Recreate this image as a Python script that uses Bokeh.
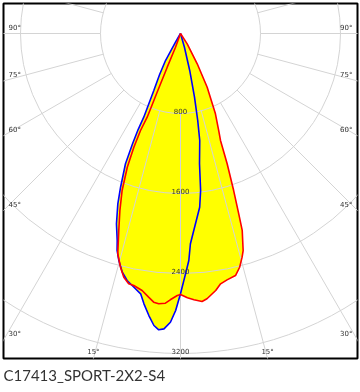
import numpy as np
from bokeh.plotting import figure
from bokeh.models import Range1d, Title
from bokeh.embed import file_html
from bokeh.resources import INLINE
from bokeh.core.properties import value

# ---- data (angle from nadir in degrees, negative = left side; intensity in cd) ----
# C0-C180 plane (red)
red_angles = [33, 33, 28.9, 26.4, 23.5, 21.5, 20.5, 19.7, 18.7, 17.9, 17.4, 16.1, 15.4,
              14.2, 12.8, 10.7, 9.1, 7.8, 5.7, 4.6, 2.9, 1.5, 0, -0.7, -2.2, -3.2, -4.6,
              -5.7, -6.9, -8.5, -10.5, -11.7, -13.1, -14.4, -15.9, -17.4, -18.9, -20.4,
              -21.7, -22.3, -22.4, -21.7, -21.7, -21.5, -20, -20]
red_cd = [0, 123, 346, 600, 876, 1043, 1142, 1384, 1658, 1895, 2064, 2259, 2320,
          2411, 2482, 2507, 2535, 2594, 2666, 2689, 2666, 2644, 2610, 2620, 2665, 2701, 2712,
          2700, 2656, 2598, 2563, 2556, 2502, 2413, 2290, 2064, 1871, 1675,
          1439, 1229, 1049, 901, 632, 362, 146, 0]

# C90-C270 plane (blue)
blue_angles = [16, 16, 14, 12.4, 11.2, 10.2, 8.3, 7.3, 6.3, 4.5, 2.7, 2.1, 1.2, 0,
               -1.0, -2.0, -3.2, -4.2, -5.2, -6.4, -7.7, -8.7, -10.4, -12.2, -13.7,
               -15.2, -16.3, -17.0, -18.6, -20.2, -21.3, -22.9, -23.5, -23.8, -23.7,
               -25.1, -27.0, -29.0, -30.0, -30.0]
blue_cd = [0, 143, 381, 652, 887, 1087, 1317, 1583, 1748, 1909, 2105, 2272, 2404, 2603,
           2770, 2889, 2958, 2971, 2932, 2838, 2728, 2634, 2580, 2527, 2457,
           2352, 2260, 2165, 2008, 1815, 1650, 1414, 1200, 1050, 914,
           629, 460, 309, 100, 0]

circle_values = [800, 1600, 2400, 3200]
circle_labels = ["800", "1600", "2400", "3200"]
radial_angles = list(range(-180, 181, 15))
side_angles = [90, 75, 60, 45, 30]
bottom_angles = [15]
title_text = "C17413_SPORT-2X2-S4"

X_MIN, X_MAX, Y_MIN, Y_MAX = -1770, 1770, -3250, 300


def polar(angles, cds):
    a = np.radians(np.asarray(angles, dtype=float))
    r = np.asarray(cds, dtype=float)
    return r * np.sin(a), -r * np.cos(a)


p = figure(frame_width=354, frame_height=355,
           x_range=Range1d(X_MIN, X_MAX), y_range=Range1d(Y_MIN, Y_MAX),
           output_backend="svg", toolbar_location=None,
           min_border_left=2, min_border_right=2, min_border_top=2, min_border_bottom=0,
           styles={"position": "fixed", "left": "1px", "top": "1px"})
p.axis.visible = False
p.grid.visible = False
p.outline_line_color = "black"
p.outline_line_width = 2
p.background_fill_color = "white"
p.border_fill_color = "white"

rx, ry = polar(red_angles, red_cd)
bx, by = polar(blue_angles, blue_cd)

# yellow fill
p.patch(list(bx), list(by), fill_color="#ffff00", line_color=None)
p.patch(list(rx), list(ry), fill_color="#ffff00", line_color=None)

# grid: circles
p.circle(x=[0] * len(circle_values), y=[0] * len(circle_values), radius=circle_values,
         fill_color=None, line_color="#d4d4d4", line_width=1)
# grid: radial lines from the first circle outward
ra = np.radians(radial_angles)
r0 = circle_values[0]
r1 = 6000
p.segment(x0=r0 * np.sin(ra), y0=-r0 * np.cos(ra), x1=r1 * np.sin(ra), y1=-r1 * np.cos(ra),
          line_color="#d4d4d4", line_width=1)

# curves
p.line(list(bx), list(by), line_color="#0000ff", line_width=1.6)
p.line(list(rx), list(ry), line_color="#ff0000", line_width=1.6)

lab_font = value("DejaVu Sans")
lab_color = "#333333"

# candela labels along the nadir
p.text(x=[0] * len(circle_values), y=[-v + 25 for v in circle_values], text=circle_labels,
       text_font=lab_font, text_font_size="7px", text_color=lab_color,
       text_align="center", text_baseline="middle")

# side angle labels where the radial lines meet the frame
side_y = [-(X_MAX / np.tan(np.radians(a))) + 20 if a != 90 else 20 for a in side_angles]
p.text(x=[X_MIN + 50] * len(side_angles), y=side_y, text=[f"{a}°" for a in side_angles],
       text_font=lab_font, text_font_size="7px", text_color=lab_color,
       text_align="left", text_baseline="bottom")
p.text(x=[X_MAX - 50] * len(side_angles), y=side_y, text=[f"{a}°" for a in side_angles],
       text_font=lab_font, text_font_size="7px", text_color=lab_color,
       text_align="right", text_baseline="bottom")

# bottom angle labels
bxs = [(-Y_MIN) * np.tan(np.radians(a)) for a in bottom_angles]
p.text(x=[-v for v in bxs] + bxs, y=[Y_MIN + 30] * (2 * len(bxs)),
       text=[f"{a}°" for a in bottom_angles] * 2,
       text_font=lab_font, text_font_size="7px", text_color=lab_color,
       text_align="center", text_baseline="bottom")

# caption
p.add_layout(Title(text=title_text, align="left", text_font="Lato",
                   text_font_size="15px", text_font_style="normal", text_color="#333333",
                   standoff=11), "below")

open("out.html", "w").write(file_html(p, INLINE))
